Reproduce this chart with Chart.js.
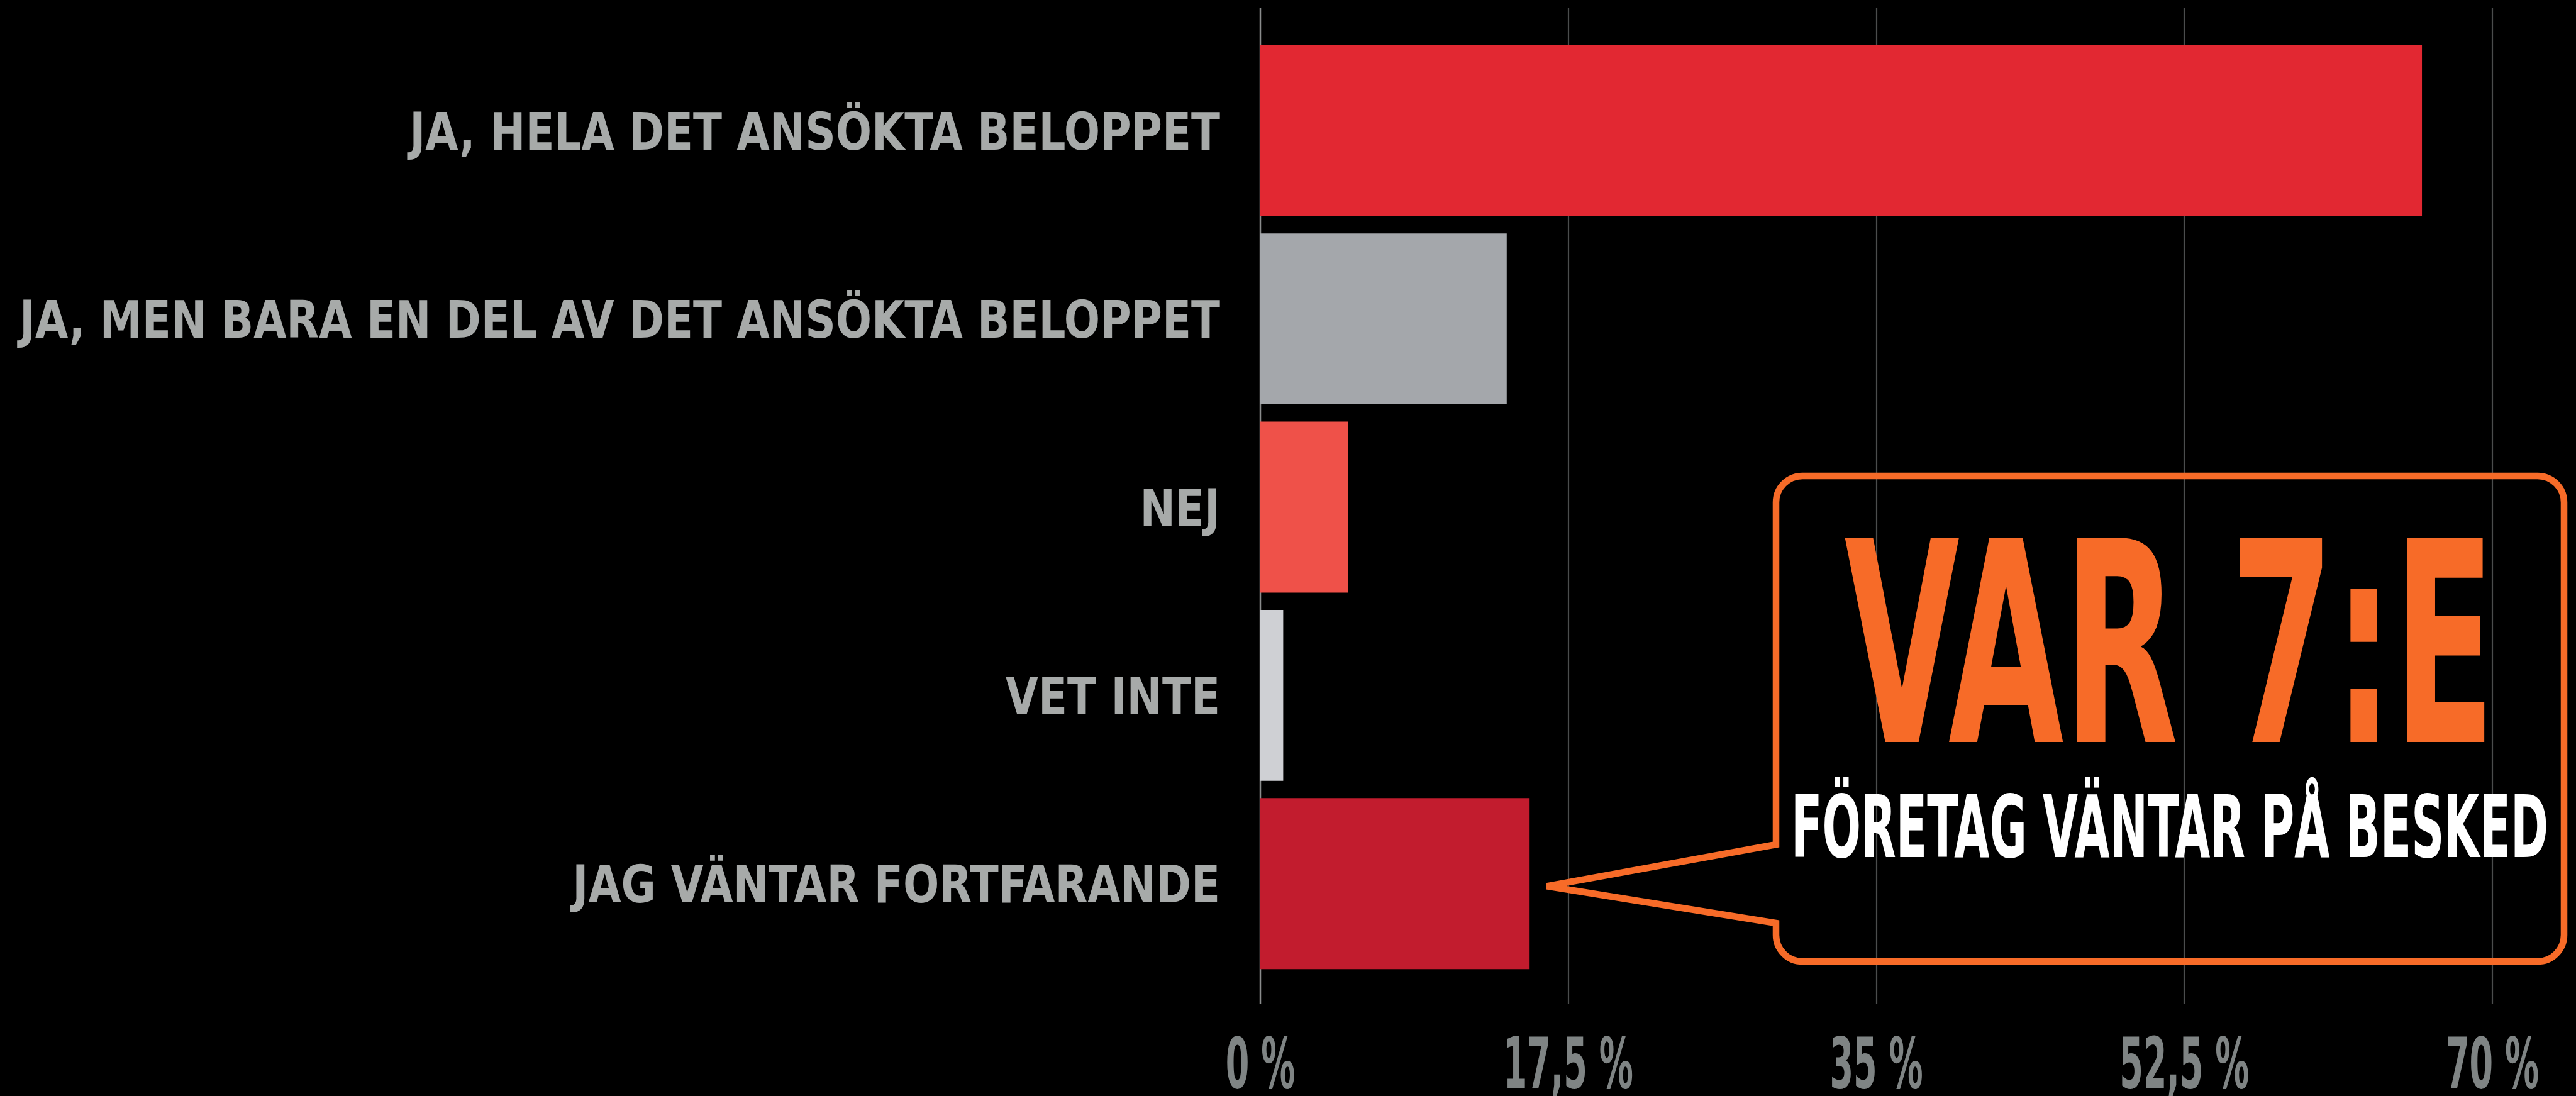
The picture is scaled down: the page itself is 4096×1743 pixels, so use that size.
<!DOCTYPE html>
<html>
<head>
<meta charset="utf-8">
<script src="https://cdn.jsdelivr.net/npm/chart.js@4"></script>
<style>
    html, body { margin: 0; padding: 0; background: #000; }
    canvas { display: block; }
</style>
</head>
<body>
<canvas id="chart_svar" width="4096" height="1743"></canvas>
<script>
const categories = [
    'JA, HELA DET ANSÖKTA BELOPPET',
    'JA, MEN BARA EN DEL AV DET ANSÖKTA BELOPPET',
    'NEJ',
    'VET INTE',
    'JAG VÄNTAR FORTFARANDE'
];
const shares = [66, 14, 5, 1.3, 15.3];
const barColors = ['#e22832', '#a4a7ab', '#ef5149', '#cfd0d4', '#c21c2e'];
const tickValues = [0, 17.5, 35, 52.5, 70];
const tickLabels = ['0 %', '17,5 %', '35 %', '52,5 %', '70 %'];
const calloutBig = 'VAR 7:E';
const calloutSmall = 'FÖRETAG VÄNTAR PÅ BESKED';

const fontFamily = '"DejaVu Sans", "Liberation Sans", sans-serif';
const orange = '#f76b28';

function setFont(ctx, size) {
    ctx.font = 'bold ' + size + 'px ' + fontFamily;
    if ('fontStretch' in ctx) ctx.fontStretch = 'condensed';
}

// draw text squeezed to a given width (the original uses a very condensed face)
function drawFitted(ctx, text, cx, baseline, size, width, color) {
    setFont(ctx, size);
    const w = ctx.measureText(text).width;
    ctx.save();
    ctx.translate(cx, baseline);
    ctx.scale(width / w, 1);
    ctx.textAlign = 'center';
    ctx.textBaseline = 'alphabetic';
    ctx.fillStyle = color;
    ctx.fillText(text, 0, 0);
    ctx.restore();
}

const gridLines = {
    id: 'gridLines',
    beforeDatasetsDraw(chart) {
        const {ctx, chartArea, scales: {x}} = chart;
        ctx.save();
        tickValues.forEach((v, i) => {
            const px = Math.round(x.getPixelForValue(v));
            ctx.beginPath();
            ctx.strokeStyle = i === 0 ? '#8a8c8c' : '#4b4d4d';
            ctx.lineWidth = i === 0 ? 2.5 : 2.2;
            ctx.moveTo(px, chartArea.top - 45);
            ctx.lineTo(px, chartArea.bottom + 42);
            ctx.stroke();
        });
        ctx.restore();
    },
    afterDraw(chart) {
        const {ctx, chartArea, scales: {x, y}} = chart;

        // x tick labels
        ctx.save();
        setFont(ctx, 113);
        const sx = 206 / ctx.measureText('52,5 %').width;
        ctx.fillStyle = '#7f8484';
        ctx.textAlign = 'center';
        ctx.textBaseline = 'alphabetic';
        tickValues.forEach((v, i) => {
            ctx.save();
            ctx.translate(x.getPixelForValue(v), chartArea.bottom + 175);
            ctx.scale(sx, 1);
            ctx.fillText(tickLabels[i], 0, 0);
            ctx.restore();
        });

        // category labels
        setFont(ctx, 82);
        const widest = Math.max(...categories.map(c => ctx.measureText(c).width));
        const sy = 1909 / widest;
        ctx.fillStyle = '#a7aaa9';
        ctx.textAlign = 'right';
        categories.forEach((c, i) => {
            ctx.save();
            ctx.translate(chartArea.left - 64, y.getPixelForValue(i) + 30);
            ctx.scale(sy, 1);
            ctx.fillText(c, 0, 0);
            ctx.restore();
        });
        ctx.restore();
    }
};

const callout = {
    id: 'callout',
    afterDatasetsDraw(chart) {
        const ctx = chart.ctx;
        const bar = chart.getDatasetMeta(0).data[4];
        const tipX = bar.x + 27, tipY = bar.y + 4;
        const L = 2824, R = 4077, T = 757, B = 1529, r = 42;
        const notchTop = 1343, notchBottom = 1468;

        ctx.save();
        ctx.strokeStyle = orange;
        ctx.lineWidth = 10.5;
        ctx.lineJoin = 'miter';
        ctx.miterLimit = 2;
        ctx.beginPath();
        ctx.moveTo(L, T + r);
        ctx.arcTo(L, T, L + r, T, r);
        ctx.lineTo(R - r, T);
        ctx.arcTo(R, T, R, T + r, r);
        ctx.lineTo(R, B - r);
        ctx.arcTo(R, B, R - r, B, r);
        ctx.lineTo(L + r, B);
        ctx.arcTo(L, B, L, B - r, r);
        ctx.lineTo(L, notchBottom);
        ctx.lineTo(tipX, tipY);
        ctx.lineTo(L, notchTop);
        ctx.closePath();
        ctx.stroke();
        ctx.restore();

        drawFitted(ctx, calloutBig, 3450, 1180, 445, 1035, orange);
        drawFitted(ctx, calloutSmall, 3450, 1363, 138, 1204, '#ffffff');
    }
};

new Chart(document.getElementById('chart_svar'), {
    type: 'bar',
    data: {
        labels: categories,
        datasets: [{
            data: shares,
            backgroundColor: barColors,
            borderWidth: 0,
            barPercentage: 1,
            categoryPercentage: 0.908
        }]
    },
    options: {
        indexAxis: 'y',
        responsive: false,
        devicePixelRatio: 1,
        animation: false,
        layout: {
            padding: { top: 58, bottom: 188, right: 133, left: 0 }
        },
        plugins: {
            legend: { display: false },
            tooltip: { enabled: false }
        },
        scales: {
            x: {
                display: false,
                min: 0,
                max: 70,
                ticks: { stepSize: 17.5 }
            },
            y: {
                grid: { display: false },
                border: { display: false },
                ticks: { display: false },
                afterFit: function(scale) {
                    scale.width = 2004;
                    scale.paddingTop = 0;
                    scale.paddingBottom = 0;
                }
            }
        }
    },
    plugins: [gridLines, callout]
});
</script>
</body>
</html>
